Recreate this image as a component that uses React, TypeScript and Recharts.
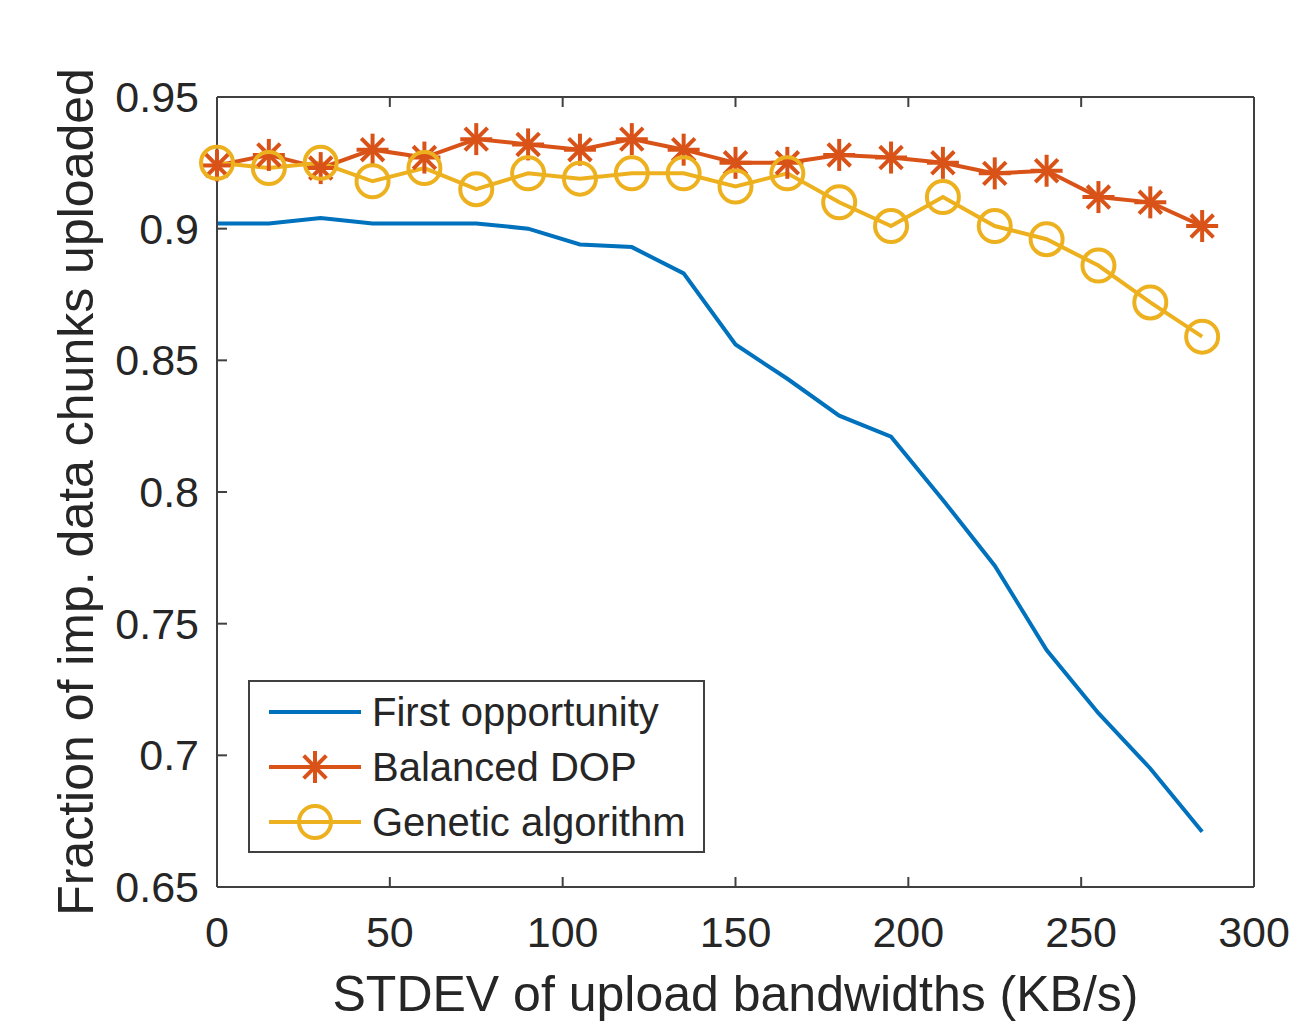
import React from 'react';
import { LineChart, Line, XAxis, YAxis } from 'recharts';

// STDEV of upload bandwidths (KB/s)
const stdevValues = [0, 15, 30, 45, 60, 75, 90, 105, 120, 135, 150, 165, 180, 195, 210, 225, 240, 255, 270, 285];

const firstOpportunity = [
  0.902, 0.902, 0.904, 0.902, 0.902, 0.902, 0.9, 0.894, 0.893, 0.883,
  0.856, 0.843, 0.829, 0.821, 0.797, 0.772, 0.74, 0.716, 0.695, 0.671,
];
const balancedDop = [
  0.924, 0.928, 0.923, 0.93, 0.927, 0.934, 0.932, 0.93, 0.934, 0.93,
  0.925, 0.925, 0.928, 0.927, 0.925, 0.921, 0.922, 0.912, 0.91, 0.901,
];
const geneticAlgorithm = [
  0.925, 0.923, 0.925, 0.918, 0.923, 0.915, 0.921, 0.919, 0.921, 0.921,
  0.916, 0.921, 0.91, 0.901, 0.912, 0.901, 0.896, 0.886, 0.872, 0.859,
];

const xTicks = [0, 50, 100, 150, 200, 250, 300];
const yTicks = [0.65, 0.7, 0.75, 0.8, 0.85, 0.9, 0.95];
const yTickLabels = ['0.65', '0.7', '0.75', '0.8', '0.85', '0.9', '0.95'];

const seriesNames = ['First opportunity', 'Balanced DOP', 'Genetic algorithm'];

const BLUE = '#0072BD';
const RED = '#D95319';
const YELLOW = '#EDB120';
const AXIS = '#404040';
const TEXT = '#262626';
const FONT = '"Liberation Sans", Arial, sans-serif';

const data = stdevValues.map((x, i) => ({
  x,
  first: firstOpportunity[i],
  balanced: balancedDop[i],
  genetic: geneticAlgorithm[i],
}));

function Asterisk({ cx, cy, color, r = 16 }: { cx: number; cy: number; color: string; r?: number }) {
  const d = r * 0.707;
  return (
    <g stroke={color} strokeWidth={4} strokeLinecap="butt">
      <line x1={cx - r} y1={cy} x2={cx + r} y2={cy} />
      <line x1={cx} y1={cy - r} x2={cx} y2={cy + r} />
      <line x1={cx - d} y1={cy - d} x2={cx + d} y2={cy + d} />
      <line x1={cx - d} y1={cy + d} x2={cx + d} y2={cy - d} />
    </g>
  );
}

function Ring({ cx, cy, color }: { cx: number; cy: number; color: string }) {
  return <circle cx={cx} cy={cy} r={16} fill="none" stroke={color} strokeWidth={4} />;
}

// ticks point into the plot box, like matlab
const BottomTick = (props: any) => {
  const { x, y, payload } = props;
  return (
    <g>
      <line x1={x} y1={y} x2={x} y2={y - 10} stroke={AXIS} strokeWidth={2} />
      <text x={x} y={y + 60} textAnchor="middle" fontSize={43} fill={TEXT} fontFamily={FONT}>
        {payload.value}
      </text>
    </g>
  );
};

const TopTick = (props: any) => {
  const { x, y } = props;
  return <line x1={x} y1={y} x2={x} y2={y + 10} stroke={AXIS} strokeWidth={2} />;
};

const LeftTick = (props: any) => {
  const { x, y, index } = props;
  return (
    <g>
      <line x1={x} y1={y} x2={x + 10} y2={y} stroke={AXIS} strokeWidth={2} />
      <text x={x - 18} y={y + 15} textAnchor="end" fontSize={43} fill={TEXT} fontFamily={FONT}>
        {yTickLabels[index]}
      </text>
    </g>
  );
};

const RightTick = (props: any) => {
  const { x, y } = props;
  return <line x1={x} y1={y} x2={x - 10} y2={y} stroke={AXIS} strokeWidth={2} />;
};

// legend box drawn by hand, sits over the lower left of the plot
const LegendBox = () => {
  const rows = [
    { name: seriesNames[0], color: BLUE, marker: null },
    { name: seriesNames[1], color: RED, marker: 'star' },
    { name: seriesNames[2], color: YELLOW, marker: 'ring' },
  ];
  return (
    <svg width={457} height={173} style={{ position: 'absolute', left: 248, top: 680 }}>
      <rect x={1} y={1} width={455} height={171} fill="#fff" stroke={AXIS} strokeWidth={2} />
      {rows.map((r, i) => {
        const cy = 32 + i * 55;
        return (
          <g key={r.name}>
            <line x1={21} y1={cy} x2={113} y2={cy} stroke={r.color} strokeWidth={4} />
            {r.marker === 'star' && <Asterisk cx={67} cy={cy} color={r.color} />}
            {r.marker === 'ring' && <Ring cx={67} cy={cy} color={r.color} />}
            <text x={124} y={cy + 14} fontSize={40} fill={TEXT} fontFamily={FONT}>
              {r.name}
            </text>
          </g>
        );
      })}
    </svg>
  );
};

export default function App() {
  return (
    <div style={{ position: 'absolute', left: 0, top: 0, width: 1308, height: 1024, background: '#fff' }}>
      <LineChart width={1308} height={1024} data={data} margin={{ top: 96, right: 53, bottom: 0, left: 0 }}>
        <XAxis
          dataKey="x"
          type="number"
          domain={[0, 300]}
          ticks={xTicks}
          height={137}
          tickSize={0}
          tickMargin={0}
          tick={<BottomTick />}
          axisLine={{ stroke: AXIS, strokeWidth: 2 }}
          label={{
            content: (p: any) => {
              const vb = p.viewBox;
              return (
                <text x={vb.x + vb.width / 2} y={vb.y + 124} textAnchor="middle" fontSize={50} fill={TEXT} fontFamily={FONT}>
                  STDEV of upload bandwidths (KB/s)
                </text>
              );
            },
          }}
        />
        <XAxis
          xAxisId="top"
          orientation="top"
          dataKey="x"
          type="number"
          domain={[0, 300]}
          ticks={xTicks}
          height={1}
          tickSize={0}
          tickMargin={0}
          tick={<TopTick />}
          axisLine={{ stroke: AXIS, strokeWidth: 2 }}
        />
        <YAxis
          type="number"
          domain={[0.65, 0.95]}
          ticks={yTicks}
          width={217}
          tickSize={0}
          tickMargin={0}
          tick={<LeftTick />}
          axisLine={{ stroke: AXIS, strokeWidth: 2 }}
          label={{
            content: (p: any) => {
              const vb = p.viewBox;
              const cx = vb.x + 93;
              const cy = vb.y + vb.height / 2;
              return (
                <text x={cx} y={cy} transform={`rotate(-90 ${cx} ${cy})`} textAnchor="middle" fontSize={50} fill={TEXT} fontFamily={FONT}>
                  Fraction of imp. data chunks uploaded
                </text>
              );
            },
          }}
        />
        <YAxis
          yAxisId="right"
          orientation="right"
          type="number"
          domain={[0.65, 0.95]}
          ticks={yTicks}
          width={1}
          tickSize={0}
          tickMargin={0}
          tick={<RightTick />}
          axisLine={{ stroke: AXIS, strokeWidth: 2 }}
        />
        <Line
          type="linear"
          dataKey="first"
          name={seriesNames[0]}
          stroke={BLUE}
          strokeWidth={4}
          dot={false}
          isAnimationActive={false}
        />
        <Line
          type="linear"
          dataKey="balanced"
          name={seriesNames[1]}
          stroke={RED}
          strokeWidth={4}
          dot={(p: any) => <Asterisk key={`s-${p.index}`} cx={p.cx} cy={p.cy} color={RED} />}
          isAnimationActive={false}
        />
        <Line
          type="linear"
          dataKey="genetic"
          name={seriesNames[2]}
          stroke={YELLOW}
          strokeWidth={4}
          dot={(p: any) => <Ring key={`c-${p.index}`} cx={p.cx} cy={p.cy} color={YELLOW} />}
          isAnimationActive={false}
        />
      </LineChart>
      <LegendBox />
    </div>
  );
}
